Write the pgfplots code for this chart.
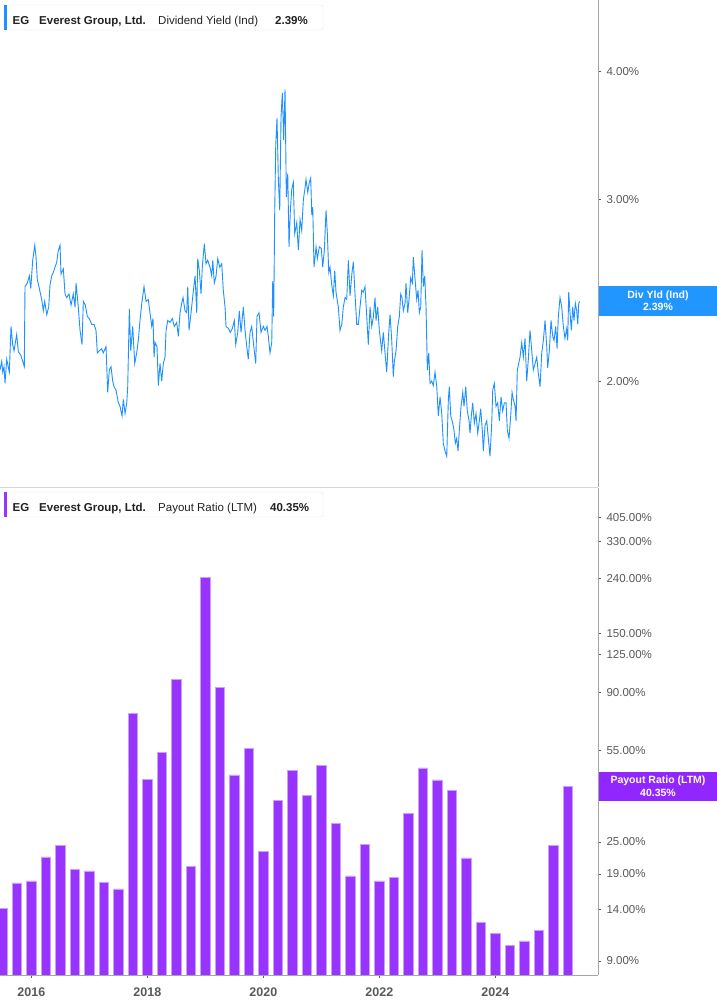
\documentclass[border=0pt]{standalone}
\usepackage{pgfplots}
\pgfplotsset{compat=1.18}
\usepackage{fontspec}
\setmainfont{Liberation Sans}

\definecolor{divblue}{RGB}{30,144,255}
\definecolor{tagblue}{RGB}{33,150,255}
\definecolor{barpurple}{RGB}{153,51,255}
\definecolor{baredge}{RGB}{200,160,255}
\definecolor{tagpurple}{RGB}{146,38,255}
\definecolor{axisgray}{RGB}{165,165,165}
\definecolor{sepgray}{RGB}{215,215,215}
\definecolor{ticktext}{RGB}{90,90,90}
\definecolor{boxborder}{RGB}{228,228,228}
\definecolor{legtext}{RGB}{34,34,34}

% dividend yield (Ind), %
\pgfplotstableread{
year yld
2015.460 2.05
2015.490 2.09
2015.507 2.04
2015.529 2.065
2015.547 1.99
2015.576 2.10
2015.621 2.04
2015.650 2.26
2015.679 2.17
2015.702 2.14
2015.748 2.22
2015.776 2.135
2015.817 2.12
2015.852 2.09
2015.879 2.065
2015.891 2.47
2015.931 2.49
2015.966 2.53
2015.990 2.46
2016.024 2.62
2016.059 2.71
2016.081 2.64
2016.103 2.51
2016.138 2.46
2016.179 2.40
2016.207 2.34
2016.231 2.39
2016.266 2.32
2016.300 2.36
2016.322 2.48
2016.352 2.53
2016.379 2.55
2016.409 2.58
2016.438 2.61
2016.466 2.68
2016.495 2.71
2016.512 2.54
2016.552 2.57
2016.581 2.43
2016.610 2.41
2016.650 2.43
2016.685 2.37
2016.724 2.43
2016.754 2.36
2016.771 2.49
2016.810 2.36
2016.840 2.24
2016.874 2.17
2016.897 2.39
2016.931 2.37
2016.966 2.31
2017.000 2.30
2017.041 2.27
2017.081 2.27
2017.115 2.24
2017.138 2.13
2017.172 2.14
2017.214 2.15
2017.241 2.13
2017.288 2.16
2017.317 1.95
2017.345 2.05
2017.374 2.065
2017.403 2.00
2017.426 1.975
2017.460 1.96
2017.500 1.905
2017.529 1.89
2017.564 1.85
2017.586 1.92
2017.616 1.86
2017.645 1.905
2017.662 1.975
2017.690 2.35
2017.714 2.14
2017.748 2.26
2017.783 2.08
2017.817 2.13
2017.845 2.19
2017.874 2.29
2017.904 2.38
2017.943 2.47
2017.978 2.39
2018.017 2.40
2018.046 2.33
2018.076 2.26
2018.098 2.30
2018.116 2.11
2018.133 2.18
2018.167 2.16
2018.190 1.98
2018.219 2.08
2018.248 2.00
2018.276 2.08
2018.305 2.11
2018.323 2.24
2018.352 2.29
2018.391 2.28
2018.431 2.30
2018.466 2.26
2018.507 2.28
2018.535 2.21
2018.564 2.33
2018.593 2.38
2018.616 2.41
2018.650 2.34
2018.679 2.33
2018.697 2.47
2018.719 2.24
2018.754 2.33
2018.788 2.43
2018.823 2.53
2018.852 2.33
2018.869 2.63
2018.897 2.56
2018.926 2.43
2018.948 2.58
2018.983 2.72
2019.012 2.60
2019.041 2.62
2019.081 2.58
2019.110 2.53
2019.128 2.62
2019.155 2.49
2019.185 2.53
2019.214 2.63
2019.248 2.58
2019.283 2.60
2019.310 2.45
2019.340 2.36
2019.357 2.26
2019.397 2.25
2019.431 2.23
2019.466 2.25
2019.500 2.29
2019.524 2.17
2019.559 2.23
2019.586 2.34
2019.616 2.23
2019.655 2.36
2019.685 2.24
2019.714 2.16
2019.741 2.10
2019.771 2.23
2019.800 2.26
2019.828 2.18
2019.869 2.08
2019.891 2.31
2019.926 2.33
2019.960 2.23
2020.000 2.26
2020.029 2.24
2020.064 2.26
2020.086 2.21
2020.115 2.13
2020.145 2.18
2020.162 2.50
2020.179 2.31
2020.196 2.91
2020.214 3.39
2020.236 3.60
2020.259 3.14
2020.283 2.93
2020.305 3.61
2020.328 3.81
2020.351 3.43
2020.374 3.84
2020.397 3.02
2020.421 3.18
2020.443 2.70
2020.466 2.93
2020.490 3.07
2020.517 3.12
2020.541 2.78
2020.576 2.85
2020.604 2.68
2020.633 2.87
2020.662 2.80
2020.690 3.00
2020.719 3.08
2020.736 3.14
2020.766 3.05
2020.793 3.12
2020.817 3.15
2020.835 2.90
2020.852 2.95
2020.874 2.58
2020.909 2.70
2020.931 2.63
2020.966 2.70
2021.000 2.69
2021.024 2.58
2021.052 2.68
2021.081 2.93
2021.104 2.78
2021.128 2.55
2021.150 2.58
2021.179 2.48
2021.207 2.42
2021.231 2.56
2021.253 2.44
2021.293 2.36
2021.322 2.24
2021.352 2.27
2021.379 2.36
2021.409 2.41
2021.438 2.40
2021.466 2.62
2021.495 2.42
2021.529 2.55
2021.552 2.61
2021.581 2.43
2021.610 2.27
2021.638 2.27
2021.667 2.36
2021.696 2.45
2021.724 2.44
2021.753 2.47
2021.783 2.31
2021.810 2.17
2021.840 2.36
2021.869 2.26
2021.897 2.31
2021.926 2.41
2021.943 2.29
2021.972 2.36
2022.000 2.24
2022.041 2.14
2022.069 2.23
2022.098 2.13
2022.127 2.04
2022.162 2.23
2022.185 2.32
2022.214 2.19
2022.241 2.02
2022.259 2.09
2022.288 2.14
2022.317 2.26
2022.345 2.31
2022.369 2.43
2022.391 2.41
2022.414 2.34
2022.443 2.38
2022.460 2.49
2022.490 2.33
2022.512 2.40
2022.541 2.52
2022.569 2.49
2022.586 2.64
2022.616 2.51
2022.645 2.40
2022.667 2.45
2022.690 2.33
2022.714 2.36
2022.736 2.68
2022.759 2.47
2022.783 2.53
2022.805 2.36
2022.828 2.05
2022.852 2.13
2022.874 1.99
2022.903 2.00
2022.931 1.98
2022.960 2.04
2022.990 1.975
2023.017 1.85
2023.047 1.93
2023.076 1.86
2023.103 1.74
2023.133 1.71
2023.162 1.69
2023.190 1.92
2023.207 1.975
2023.231 1.85
2023.266 1.82
2023.288 1.79
2023.310 1.74
2023.334 1.76
2023.357 1.71
2023.379 1.79
2023.409 1.89
2023.438 1.95
2023.460 1.89
2023.490 1.975
2023.517 1.87
2023.547 1.83
2023.564 1.78
2023.586 1.85
2023.610 1.905
2023.638 1.82
2023.667 1.86
2023.696 1.78
2023.724 1.83
2023.748 1.88
2023.776 1.79
2023.793 1.71
2023.822 1.81
2023.852 1.83
2023.879 1.76
2023.908 1.69
2023.938 1.82
2023.955 1.96
2023.983 1.99
2024.012 1.89
2024.041 1.905
2024.069 1.83
2024.098 1.93
2024.127 1.87
2024.155 1.905
2024.185 1.905
2024.207 1.79
2024.236 1.76
2024.265 1.85
2024.288 1.95
2024.310 1.92
2024.340 1.89
2024.357 1.83
2024.379 2.05
2024.403 2.08
2024.426 2.11
2024.455 2.18
2024.483 2.11
2024.512 2.20
2024.541 2.00
2024.569 2.10
2024.598 2.24
2024.628 2.14
2024.655 2.05
2024.685 2.08
2024.714 2.11
2024.741 2.035
2024.771 1.975
2024.800 2.13
2024.828 2.19
2024.857 2.29
2024.886 2.16
2024.903 2.06
2024.931 2.14
2024.960 2.29
2024.990 2.21
2025.012 2.19
2025.041 2.26
2025.064 2.15
2025.086 2.31
2025.115 2.41
2025.145 2.36
2025.172 2.26
2025.201 2.20
2025.231 2.25
2025.248 2.19
2025.265 2.44
2025.288 2.33
2025.310 2.24
2025.334 2.36
2025.357 2.29
2025.379 2.38
2025.403 2.34
2025.421 2.27
2025.438 2.38
2025.455 2.39
}\yieldtable

% payout ratio (LTM), %, quarterly
\pgfplotstableread{
qtr payout
2015.50 14.1
2015.75 17.6
2016.00 17.9
2016.25 22.0
2016.50 24.2
2016.75 19.7
2017.00 19.5
2017.25 17.7
2017.50 16.7
2017.75 75.2
2018.00 42.8
2018.25 54.0
2018.50 101.2
2018.75 20.3
2019.00 242.5
2019.25 94.0
2019.50 44.5
2019.75 55.9
2020.00 23.1
2020.25 35.8
2020.50 46.3
2020.75 37.4
2021.00 48.3
2021.25 29.4
2021.50 18.7
2021.75 24.5
2022.00 17.9
2022.25 18.4
2022.50 31.9
2022.75 47.2
2023.00 42.6
2023.25 39.0
2023.50 21.8
2023.75 12.5
2024.00 11.4
2024.25 10.3
2024.50 10.7
2024.75 11.7
2025.00 24.3
2025.25 40.35
}\payouttable

\pgfplotsset{
  egpanel/.style={
    scale only axis, width=598pt, height=487pt,
    xmin=2015.46, xmax=2025.77,
    yminorticks=false,
    axis x line*=bottom, axis y line*=right,
    axis line style={-, draw=axisgray, line width=0.9pt},
    ytick style={draw=ticktext, line width=0.6pt},
    xtick style={draw=ticktext, line width=0.6pt},
    major tick length=3pt,
    tick align=outside,
    yticklabel style={font=\fontsize{11.5}{13}\selectfont, text=ticktext, anchor=west, xshift=2pt},
  }
}

\begin{document}
\begin{tikzpicture}
\fill[white] (0,0) rectangle (717pt,1005pt);
\useasboundingbox (0,0) rectangle (717pt,1005pt);

% ---- top panel: dividend yield ----
\begin{axis}[egpanel, ymode=log,
  at={(0pt,518pt)}, anchor=south west,
  ymin=1.578, ymax=4.69,
  xtick=\empty,
  x axis line style={draw=sepgray},
  ytick={2,3,4},
  yticklabels={2.00\%,3.00\%,4.00\%},
]
\addplot[divblue, line width=0.9pt] table[x=year, y=yld] {\yieldtable};
\end{axis}

% ---- bottom panel: payout ratio ----
% the 40.00% label sits under the last-value tag, so only its tick mark is kept
\begin{axis}[egpanel, ymode=log,
  at={(0pt,30pt)}, anchor=south west,
  ymin=7.98, ymax=521.7,
  log origin y=infty,
  xtick={2016,2018,2020,2022,2024},
  xticklabels={2016,2018,2020,2022,2024},
  xticklabel style={font=\bfseries\fontsize{12.5}{14}\selectfont, text=ticktext, yshift=-6pt},
  ytick={9,14,19,25,40,55,90,125,150,240,330,405},
  yticklabels={9.00\%,14.00\%,19.00\%,25.00\%,,55.00\%,90.00\%,125.00\%,150.00\%,240.00\%,330.00\%,405.00\%},
]
\addplot[ybar, bar width=9.6pt, fill=barpurple, draw=baredge, line width=0.5pt]
  table[x=qtr, y=payout] {\payouttable};
\end{axis}

% ---- legend boxes ----
\begin{scope}[font=\fontsize{11.5}{13}\selectfont, text=legtext]
  \draw[boxborder, fill=white, rounded corners=2pt] (4pt,975pt) rectangle (323pt,1000pt);
  \fill[divblue] (4pt,975pt) rectangle (7pt,1000pt);
  \node[anchor=base west, inner sep=0pt] at (12.5pt,980pt) {\bfseries EG};
  \node[anchor=base west, inner sep=0pt] at (39pt,980pt) {\bfseries Everest Group, Ltd.};
  \node[anchor=base west, inner sep=0pt] at (158pt,980pt) {Dividend Yield (Ind)};
  \node[anchor=base west, inner sep=0pt] at (275pt,980pt) {\bfseries 2.39\%};

  \draw[boxborder, fill=white, rounded corners=2pt] (4pt,488pt) rectangle (323pt,513pt);
  \fill[barpurple] (4pt,488pt) rectangle (7pt,513pt);
  \node[anchor=base west, inner sep=0pt] at (12.5pt,493pt) {\bfseries EG};
  \node[anchor=base west, inner sep=0pt] at (39pt,493pt) {\bfseries Everest Group, Ltd.};
  \node[anchor=base west, inner sep=0pt] at (158pt,493pt) {Payout Ratio (LTM)};
  \node[anchor=base west, inner sep=0pt] at (270pt,493pt) {\bfseries 40.35\%};
\end{scope}

% ---- last-value tags ----
\begin{scope}[font=\bfseries\fontsize{10.5}{12}\selectfont, text=white]
  \fill[tagblue] (598.5pt,689pt) rectangle (717pt,719pt);
  \node[inner sep=0pt] at (658pt,709pt) {Div Yld (Ind)};
  \node[inner sep=0pt] at (658pt,698pt) {2.39\%};

  \fill[tagpurple] (598.5pt,204pt) rectangle (717pt,233pt);
  \node[inner sep=0pt] at (658pt,224pt) {Payout Ratio (LTM)};
  \node[inner sep=0pt] at (658pt,212.5pt) {40.35\%};
\end{scope}
\end{tikzpicture}
\end{document}
